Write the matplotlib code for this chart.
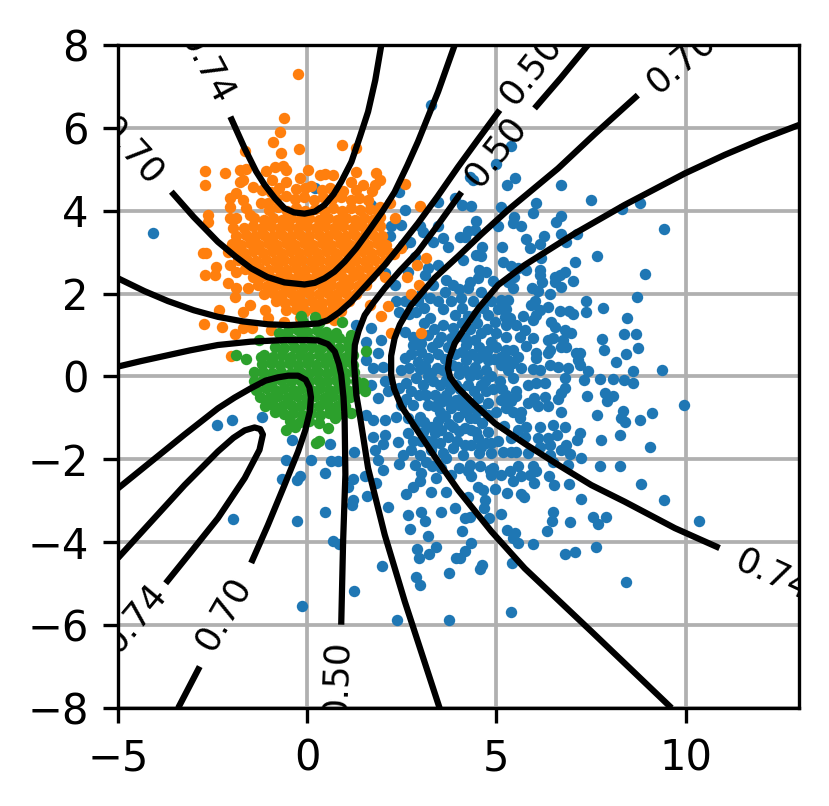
import matplotlib
matplotlib.use("Agg")
import matplotlib.pyplot as plt
import numpy as np

xtick_vals = [-5, 0, 5, 10]
ytick_vals = [-8, -6, -4, -2, 0, 2, 4, 6, 8]

blue_xy = [
    (-4.07,3.47),(3.28,6.55),(0.2,4.54),(2.43,4.46),(1.7,4.14),(2.58,4.02),(3.46,4.22),(3.9,4.3),(3.46,3.62),
    (2.22,3.62),(2.49,3.66),(2.18,3.4),(2.97,3.62),(3.59,3.35),(3.33,3.25),(3.72,3.13),(2.71,3.25),(3.06,3.49),
    (2.53,3.17),(2.84,2.89),(3.46,2.69),(3.19,2.61),(3.68,2.33),(3.11,2.45),(2.67,2.53),(3.33,2.21),(3.85,2.21),
    (2.05,2.49),(2.31,2.21),(2.58,1.81),(2.93,1.81),(3.46,1.81),(3.81,1.81),(2.36,1.81),(2.44,1.56),(2.88,1.56),
    (3.24,1.4),(3.59,1.64),(3.9,1.48),(1.3,1.24),(1.7,1.16),(1.96,0.88),(1.56,0.84),(1.56,0.4),(1.87,0.56),
    (2.0,0.24),(1.74,0.2),(2.58,1.08),(2.8,0.76),(3.19,1.0),(3.46,0.84),(3.81,0.92),(2.58,0.44),(2.93,0.36),
    (2.49,0.16),(3.28,0.08),
    (5.4,5.57),(5.0,5.13),(4.3,4.82),(4.38,4.74),(5.5,4.8),(5.27,4.62),(6.7,4.62),(7.51,4.25),(6.06,4.18),
    (8.79,4.18),(8.32,4.04),(4.08,4.14),(4.32,4.12),(5.13,4.1),(5.97,3.95),(6.72,3.88),(5.47,3.86),(6.59,3.74),
    (5.44,3.7),(5.66,3.64),(5.05,3.62),(4.45,3.76),(9.43,3.56),(7.13,3.45),(6.72,3.43),(6.26,3.39),(5.78,3.32),
    (6.85,3.24),(6.15,3.2),(5.88,3.11),(5.15,3.12),(4.62,3.13),(7.66,2.92),(4.47,2.93),(4.6,2.92),(4.16,3.37),
    (4.03,3.37),(4.25,3.5),(4.43,3.53),(4.12,2.81),(7.07,2.77),(5.18,2.77),(6.17,2.85),(5.4,2.67),(5.57,2.61),
    (5.79,2.57),(6.15,2.57),(4.53,2.57),(4.74,2.51),(6.81,2.53),(8.94,2.48),(6.54,2.41),(6.67,2.45),(6.15,2.45),
    (4.52,2.38),(4.3,2.27),(6.21,2.29),(6.54,2.27),(7.02,2.3),(4.91,2.3),(5.48,2.41),(5.3,2.27),(6.72,2.17),
    (5.93,2.13),(6.1,2.06),(5.44,2.13),(4.6,2.05),(4.25,2.13),(6.41,1.98),(8.73,1.93),(4.07,1.89),(4.38,1.81),
    (4.87,1.81),(5.13,1.85),(5.3,1.85),(6.01,1.81),(5.92,1.72),(7.36,1.82),(6.37,1.68),(6.15,1.6),(5.26,1.64),
    (5.04,1.64),(7.83,1.66),(6.67,1.59),(6.92,1.59),(7.03,1.52),(7.36,1.56),(5.71,1.47),(6.06,1.48),(5.97,1.36),
    (8.46,1.42),(4.78,1.48),(4.43,1.48),(5.22,1.44),(5.35,1.4),(6.45,1.32),(6.54,1.2),(5.53,1.24),(5.26,1.24),
    (4.96,1.32),(5.75,1.12),(6.81,1.12),(6.98,1.04),(8.37,1.03),(8.7,1.03),(4.6,1.04),(5.62,0.96),(5.97,0.92),
    (5.26,0.96),(6.37,0.88),(6.5,0.92),(7.79,0.9),(6.76,0.88),(4.87,0.84),(4.16,0.92),(4.43,0.88),(5.79,0.74),
    (6.72,0.72),(6.85,0.72),(6.41,0.64),(7.84,0.65),(8.75,0.68),(5.26,0.64),(5.44,0.64),(7.11,0.56),(7.2,0.56),
    (8.44,0.55),(6.06,0.56),(6.37,0.56),(5.13,0.48),(5.57,0.48),(4.51,0.44),(4.78,0.4),(4.21,0.4),(6.06,0.44),
    (5.31,0.4),(7.16,0.4),(8.15,0.36),(5.44,0.32),(5.13,0.28),(6.41,0.28),(6.63,0.24),(6.9,0.2),(7.2,0.28),
    (4.43,0.24),(3.99,0.24),(9.39,0.16),(7.42,0.13),(8.6,0.13),(5.97,0.18),(6.15,0.16),(5.66,0.2),(5.31,0.16),
    (4.74,0.16),(4.16,0.16),
    (9.95,-0.68),(9.12,-0.87),(8.81,-1.05),(8.35,-0.84),(8.3,-1.01),(8.39,-1.1),(7.66,-0.94),(8.26,-1.41),
    (7.76,-1.53),(9.05,-1.69),(7.73,-2.15),(8.28,-2.17),(8.82,-2.6),(9.43,-2.99),(10.35,-3.48),(7.25,-2.95),
    (6.92,-2.6),(6.53,-2.61),(6.38,-2.4),(7.91,-3.38),(7.56,-3.38),(7.7,-3.56),(6.5,-3.26),(6.48,-3.48),
    (6.95,-3.5),(6.34,-3.74),(5.97,-4.04),(5.56,-4.01),(7.64,-4.11),(7.07,-4.23),(6.82,-4.28),(8.42,-4.97),
    (5.41,-4.5),(4.62,-4.55),(4.56,-4.64),(5.4,-5.68),(4.32,-4.02),(4.18,-4.2),(4.03,-4.38),(5.44,-3.9),
    (5.49,-3.78),(5.29,-3.7),(4.09,-3.72),(5.13,-3.32),(4.8,-3.42),(4.67,-3.18),(4.16,-3.42),(4.3,-3.38),
    (4.69,-2.98),(4.25,-2.92),(4.65,-2.74),(4.52,-2.66),(4.97,-2.72),(5.29,-2.82),(5.64,-2.84),(5.73,-2.92),
    (4.34,-2.41),(4.25,-2.29),(4.56,-2.17),(4.87,-2.37),(4.82,-2.25),(5.13,-2.37),(5.35,-2.29),(5.44,-2.52),
    (5.66,-2.41),(5.88,-2.37),(6.06,-2.29),(5.99,-2.56),(5.97,-2.17),(5.57,-2.15),(4.91,-2.2),(4.3,-2.13),
    (6.9,-2.13),(6.5,-2.07),(7.23,-1.96),(6.94,-1.87),(5.18,-1.83),(5.4,-1.83),(5.53,-1.81),(5.84,-1.85),
    (4.53,-1.85),(4.87,-1.85),(4.12,-1.89),(6.41,-1.89),(6.72,-1.77),(6.85,-1.65),(6.15,-1.69),(6.41,-1.65),
    (7.14,-1.53),(7.2,-1.37),(6.61,-1.42),(4.74,-1.61),(4.34,-1.65),(4.16,-1.65),(4.52,-1.49),(5.4,-1.49),
    (5.75,-1.45),(6.1,-1.49),(6.37,-1.49),(4.78,-1.33),(4.47,-1.33),(4.16,-1.25),(5.57,-1.29),(5.79,-1.21),
    (6.15,-1.23),(6.5,-1.17),(6.82,-1.21),(5.62,-1.01),(5.44,-0.86),(5.66,-0.86),(6.72,-0.85),(4.78,-0.93),
    (4.43,-1.01),(4.16,-0.85),(6.1,-0.7),(6.37,-0.72),(5.84,-0.64),(6.0,-0.52),(6.29,-0.5),(6.63,-0.54),
    (7.4,-0.48),(7.86,-0.4),(8.08,-0.48),(7.93,-0.59),(6.81,-0.28),(6.72,-0.4),(5.13,-0.56),(5.26,-0.44),
    (5.53,-0.36),(5.53,-0.48),(4.78,-0.64),(4.74,-0.36),(4.52,-0.52),(4.25,-0.68),(4.08,-0.52),(4.25,-0.2),
    (4.6,-0.2),(5.09,-0.12),(5.84,-0.2),(6.06,-0.16),(6.28,-0.16),(6.81,-0.04),(7.31,-0.08),(7.75,-0.06),
    (8.08,-0.06),(8.37,-0.08),(8.6,-0.15),(5.44,-0.04),
    (-2.38,-1.17),(-2.0,-1.06),(-1.19,-0.97),(-0.4,-1.53),(0.61,-1.63),(-0.57,-2.01),(0.11,-2.01),(0.64,-2.04),
    (0.81,-2.05),(0.48,-2.34),(-0.67,-2.47),(-0.2,-2.41),(-0.27,-2.5),(1.21,-2.47),(1.52,-2.41),(1.08,-2.66),
    (1.83,-2.56),(1.59,-2.88),(1.21,-2.98),(1.19,-3.1),(-1.96,-3.44),(-0.26,-3.48),(0.48,-3.27),(2.14,-3.14),
    (2.67,-3.34),(3.0,-3.27),(3.11,-3.48),(3.55,-3.28),(2.71,-3.68),(3.19,-3.86),(0.67,-3.96),(0.83,-4.05),
    (2.9,-4.16),(2.95,-4.37),(3.21,-4.28),(3.4,-4.12),(3.94,-4.38),(1.99,-4.58),(3.74,-4.75),(2.87,-4.85),
    (2.98,-5.03),(1.24,-5.17),(-0.13,-5.55),(2.38,-5.88),(3.76,-5.87),(2.62,-2.84),(2.8,-2.66),(2.97,-2.52),
    (3.28,-2.79),(3.68,-2.79),(3.9,-3.18),(3.41,-2.46),(3.81,-2.37),(2.0,-2.26),(2.44,-2.12),(2.84,-2.14),
    (3.02,-2.34),(3.15,-2.07),(3.68,-1.96),(1.87,-2.01),(1.24,-1.81),(1.78,-1.77),(2.0,-1.63),(2.4,-1.57),
    (2.53,-1.89),(2.75,-1.77),(2.97,-1.89),(3.28,-1.77),(3.5,-1.61),(3.85,-1.73),(1.74,-1.45),(2.05,-1.4),
    (2.67,-1.37),(3.06,-1.33),(3.37,-1.37),(3.72,-1.45),(1.56,-0.93),(1.74,-1.05),(2.05,-1.05),(2.36,-0.97),
    (2.67,-1.01),(2.97,-0.97),(3.28,-1.21),(3.85,-1.21),(1.87,-0.52),(2.14,-0.36),(2.49,-0.69),(2.8,-0.69),
    (3.19,-0.69),(3.5,-0.85),(3.81,-0.77),(2.05,-0.12),(1.7,-0.2),(2.44,-0.28),(2.75,-0.36),(3.06,-0.2),
    (3.37,-0.44),(3.68,-0.44),(2.88,-0.04),(3.19,0.0),(3.68,-0.08),(3.94,-0.2),(3.94,-0.56),
    (2.8,0.95),(3.02,0.82),(3.3,0.7),(3.55,0.95),(3.72,0.72),(3.98,0.98),(4.2,0.75),(4.55,0.72),(4.75,0.62),(5.0,0.7),
    (2.75,0.55),(3.0,0.58),(3.2,0.45),(3.45,0.55),(3.65,0.42),(3.9,0.55),(4.1,0.58),(4.35,0.55),(4.6,0.5),(4.95,0.42),
    (2.7,0.2),(2.98,0.18),(3.12,0.25),(3.42,0.2),(3.58,0.15),(3.82,0.28),(4.02,0.05),(4.3,0.0),(4.5,0.05),(4.85,0.0),
    (2.62,-0.15),(3.32,-0.1),(3.5,-0.2),(3.78,-0.3),(4.05,-0.3),(4.42,-0.35),(4.9,-0.3),(2.95,-0.45),(3.15,-0.45),
    (3.55,-0.62),(3.72,-0.6),(4.0,-0.68),(4.42,-0.75),(2.62,-0.55),(3.38,-0.72),(3.65,-0.95),(3.98,-0.98),(4.3,-1.0),
    (4.6,-0.82),(3.1,-1.1),(3.45,-1.08),(3.75,-1.15),(4.0,-1.32),(4.32,-1.28),(4.62,-1.12),(3.55,-1.3),(2.85,-1.15),
    (3.1,1.3),(3.35,1.15),(3.6,1.25),(3.85,1.18),(4.1,1.3),(4.3,1.15),(4.5,1.3),(4.75,1.15),(5.0,1.05),
    (3.0,2.0),(3.25,1.9),(3.65,2.05),(4.0,2.1),(2.7,1.5),(3.1,1.65),(4.1,1.65),(4.25,1.45),(4.65,1.65),
    (4.85,-1.6),(4.6,-1.7),(5.05,-1.55),(5.2,-1.2),(5.0,-0.85),(5.25,-0.75),(5.4,-0.6),(5.15,-0.3),(4.7,-0.1),
    (3.35,-1.6),(3.6,-1.85),(3.95,-1.55),(3.2,-1.55),(3.0,-1.55),(2.8,-1.55),(3.3,-2.15),(3.55,-2.2),(4.0,-2.2),
]

orange_xy = [
    (-0.24,7.29),(-0.62,6.25),(-0.71,5.91),(-0.9,5.67),(-0.7,5.39),(-0.22,5.49),(0.92,5.59),(1.3,5.51),(-1.63,5.43),
    (-2.71,4.96),(-2.18,4.9),(-2.71,4.62),(-1.78,4.98),(-1.61,5.0),(-1.08,4.96),(-0.84,5.06),(-0.64,5.09),(-0.55,4.98),
    (0.02,4.98),(0.33,4.86),(0.46,4.88),(0.68,4.86),(1.3,4.93),(1.83,4.92),(1.92,4.74),(1.78,4.62),(1.48,4.62),
    (1.71,4.48),(2.59,4.64),(-1.7,4.74),(-1.78,4.69),(-1.43,4.58),(-1.19,4.5),(-0.93,4.74),(-0.55,4.7),(-0.2,4.78),
    (1.17,4.7),(1.3,4.5),(-2.05,4.3),(-1.87,4.42),(-1.7,4.26),(-2.05,4.1),(-1.61,4.06),(-2.62,3.9),(-2.62,3.74),
    (-2.05,3.82),(-1.87,3.82),(-1.96,3.58),(-1.52,3.9),(-1.21,4.18),(-1.04,4.18),(2.31,3.83),(2.97,4.11),(2.18,4.18),(1.92,4.1),
    (-0.75,4.55),(-0.3,4.52),(0.1,4.6),(0.6,4.55),(0.95,4.48),(-0.95,4.45),(-0.05,4.55),(0.38,4.5),
    (-0.82,4.3),(-0.55,4.35),(-0.32,4.28),(-0.08,4.32),(0.18,4.25),(0.42,4.33),(0.66,4.28),(0.9,4.32),(1.15,4.26),(1.38,4.3),(1.6,4.25),
    (-1.0,4.02),(-0.78,4.08),(-0.52,4.0),(-0.3,4.06),(-0.05,4.0),(0.2,4.05),(0.44,4.0),(0.68,4.06),(0.92,4.0),(1.16,4.06),(1.4,4.02),(1.65,4.05),(1.88,3.98),
    (-1.4,3.82),(-1.15,3.78),(-0.9,3.82),(-0.66,3.78),(-0.42,3.82),(-0.18,3.78),(0.06,3.82),(0.3,3.78),(0.54,3.82),(0.78,3.78),(1.02,3.82),(1.26,3.78),(1.5,3.82),(1.72,3.78),(1.92,3.84),
    (-1.68,3.58),(-1.44,3.62),(-1.2,3.58),(-0.96,3.62),(-0.72,3.58),(-0.48,3.62),(-0.24,3.58),(0.0,3.62),(0.24,3.58),(0.48,3.62),(0.72,3.58),(0.96,3.62),(1.2,3.58),(1.44,3.62),(1.68,3.58),(1.92,3.62),
    (-1.88,3.38),(-1.62,3.42),(-1.38,3.38),(-1.14,3.42),(-0.9,3.38),(-0.66,3.42),(-0.42,3.38),(-0.18,3.42),(0.06,3.38),(0.3,3.42),(0.54,3.38),(0.78,3.42),(1.02,3.38),(1.26,3.42),(1.5,3.38),(1.74,3.42),(1.98,3.38),
    (-2.0,3.2),(-1.76,3.18),(-1.52,3.22),(-1.28,3.18),(-1.04,3.22),(-0.8,3.18),(-0.56,3.22),(-0.32,3.18),(-0.08,3.22),(0.16,3.18),(0.4,3.22),(0.64,3.18),(0.88,3.22),(1.12,3.18),(1.36,3.22),(1.6,3.18),(1.84,3.22),(2.08,3.18),
    (-2.09,3.0),(-1.88,2.98),(-1.66,2.98),(-1.42,3.02),(-1.18,2.98),(-0.94,3.02),(-0.7,2.98),(-0.46,3.02),(-0.22,2.98),(0.02,3.02),(0.26,2.98),(0.5,3.02),(0.74,2.98),(0.98,3.02),(1.22,2.98),(1.46,3.02),(1.7,2.98),(1.94,3.02),(2.18,2.98),
    (-1.82,2.8),(-1.58,2.82),(-1.34,2.78),(-1.1,2.82),(-0.86,2.78),(-0.62,2.82),(-0.38,2.78),(-0.14,2.82),(0.1,2.78),(0.34,2.82),(0.58,2.78),(0.82,2.82),(1.06,2.78),(1.3,2.82),(1.54,2.78),(1.78,2.82),(2.02,2.78),
    (-1.65,2.6),(-1.5,2.6),(-1.26,2.62),(-1.02,2.58),(-0.78,2.62),(-0.54,2.58),(-0.3,2.62),(-0.06,2.58),(0.18,2.62),(0.42,2.58),(0.66,2.62),(0.9,2.58),(1.14,2.62),(1.38,2.58),(1.62,2.62),(1.86,2.58),
    (-1.44,2.4),(-1.2,2.42),(-0.96,2.38),(-0.72,2.42),(-0.48,2.38),(-0.24,2.42),(0.0,2.38),(0.24,2.42),(0.48,2.38),(0.72,2.42),(0.96,2.38),(1.2,2.42),(1.44,2.38),(1.68,2.42),
    (-1.3,2.22),(-1.06,2.18),(-0.82,2.22),(-0.58,2.18),(-0.34,2.22),(-0.1,2.18),(0.14,2.22),(0.38,2.18),(0.62,2.22),(0.86,2.18),(1.1,2.22),(1.34,2.18),(1.56,2.22),
    (-1.15,2.0),(-0.9,2.02),(-0.66,1.98),(-0.42,2.02),(-0.18,1.98),(0.06,2.02),(0.3,1.98),(0.54,2.02),(0.78,1.98),(1.02,2.02),(1.28,1.98),
    (-0.82,1.82),(-0.58,1.78),(-0.34,1.82),(-0.1,1.78),(0.14,1.82),(0.38,1.78),(0.62,1.82),(0.86,1.78),(1.1,1.82),
    (-0.55,1.6),(-0.3,1.62),(-0.06,1.58),(0.18,1.62),(0.42,1.58),(0.66,1.62),(0.9,1.58),(-0.2,1.4),(0.5,1.4),(0.72,1.36),
    (-2.67,2.97),(-2.75,2.97),(-2.4,2.65),(-2.71,2.46),(-2.43,2.45),(-2.05,2.69),(-1.87,2.53),(-2.09,2.25),(-1.87,2.13),
    (-1.92,1.93),(-1.56,2.13),(-2.34,1.6),(-2.73,1.27),(-2.25,1.2),(-1.92,1.02),(-1.7,1.56),(-1.52,1.72),(-1.7,1.16),
    (-1.45,1.16),(-1.12,1.6),(-1.04,1.4),(-0.95,1.12),(-2.02,0.5),(-0.6,1.32),(-0.24,1.2),
    (2.89,2.69),(3.15,2.87),(2.65,2.41),(2.96,2.22),(2.75,2.0),(2.14,1.7),(1.96,1.47),(1.65,1.72),(2.22,1.04),(3.02,1.04),(2.49,3.09),(2.3,2.95),(2.05,2.4),
]

green_xy = [
    (-0.17,1.47),(0.2,1.44),(0.92,1.32),(1.17,1.0),(1.55,0.62),(-1.87,0.53),(-1.61,0.42),(-1.26,0.88),(-1.21,0.48),
    (-0.75,1.06),(-0.5,1.1),(-0.25,1.12),(0.0,1.08),(0.25,1.12),(0.5,1.08),(0.75,1.05),(-0.1,1.32),(0.3,1.28),
    (-0.65,0.9),(-0.4,0.88),(-0.15,0.92),(0.1,0.88),(0.35,0.92),(0.6,0.88),(0.85,0.92),(1.08,0.86),
    (-0.85,0.7),(-0.6,0.68),(-0.36,0.72),(-0.12,0.68),(0.12,0.72),(0.36,0.68),(0.6,0.72),(0.84,0.68),(1.08,0.7),
    (-1.15,0.52),(-0.9,0.48),(-0.66,0.52),(-0.42,0.48),(-0.18,0.52),(0.06,0.48),(0.3,0.52),(0.54,0.48),(0.78,0.52),(1.02,0.48),(1.22,0.52),
    (-1.2,0.3),(-0.96,0.32),(-0.72,0.28),(-0.48,0.32),(-0.24,0.28),(0.0,0.32),(0.24,0.28),(0.48,0.32),(0.72,0.28),(0.96,0.32),(1.2,0.28),
    (-1.4,0.1),(-1.16,0.12),(-0.92,0.08),(-0.68,0.12),(-0.44,0.08),(-0.2,0.12),(0.04,0.08),(0.28,0.12),(0.52,0.08),(0.76,0.12),(1.0,0.08),(1.25,0.12),
    (-1.4,-0.1),(-1.16,-0.08),(-0.92,-0.12),(-0.68,-0.08),(-0.44,-0.12),(-0.2,-0.08),(0.04,-0.12),(0.28,-0.08),(0.52,-0.12),(0.76,-0.08),(1.0,-0.12),(1.28,-0.1),(1.48,-0.16),
    (-1.34,-0.32),(-1.1,-0.28),(-0.86,-0.32),(-0.62,-0.28),(-0.38,-0.32),(-0.14,-0.28),(0.1,-0.32),(0.34,-0.28),(0.58,-0.32),(0.82,-0.28),(1.06,-0.32),(1.3,-0.3),(1.52,-0.36),
    (-1.25,-0.5),(-1.0,-0.52),(-0.76,-0.48),(-0.52,-0.52),(-0.28,-0.48),(-0.04,-0.52),(0.2,-0.48),(0.44,-0.52),(0.68,-0.48),(0.92,-0.52),(1.12,-0.5),
    (-1.12,-0.72),(-0.9,-0.68),(-0.66,-0.72),(-0.42,-0.68),(-0.18,-0.72),(0.06,-0.68),(0.3,-0.72),(0.54,-0.68),(0.78,-0.72),(1.0,-0.7),(1.17,-0.89),
    (-0.86,-0.85),(-0.62,-0.9),(-0.38,-0.88),(-0.14,-0.92),(0.1,-0.88),(0.34,-0.92),(0.58,-0.88),(0.8,-0.92),
    (-0.55,-1.29),(-0.33,-1.21),(-0.45,-1.08),(-0.2,-1.1),(0.05,-1.08),(0.3,-1.12),(0.55,-1.25),(0.73,-1.01),(0.24,-1.61),(0.3,-1.55),
]

# contour polylines, one list per stretch between labels
contour_lines = [
    [(-2.03,6.27),(-1.65,5.5),(-1.35,4.95),(-1.12,4.62),(-0.85,4.3),(-0.6,4.06),(-0.35,3.96),(-0.07,3.93),(0.2,3.98),(0.46,4.14),(0.7,4.4),(0.9,4.7),(1.17,5.18),(1.4,5.8),(1.61,6.39),(1.8,7.15),(1.96,8.0)],
    [(-3.59,4.46),(-3.0,3.85),(-2.36,3.25),(-1.9,2.9),(-1.48,2.61),(-1.05,2.4),(-0.6,2.27),(-0.07,2.22),(0.2,2.26),(0.46,2.37),(0.72,2.53),(0.99,2.77),(1.3,3.1),(1.61,3.49),(2.0,4.0),(2.31,4.45),(2.65,5.1),(2.93,5.67),(3.46,6.87),(3.9,8.0)],
    [(-5,2.37),(-4.3,2.06),(-3.68,1.82),(-3.0,1.6),(-2.36,1.44),(-1.7,1.33),(-1.04,1.26),(-0.5,1.24),(-0.07,1.26),(0.3,1.28),(0.55,1.36),(0.85,1.55),(1.17,1.81),(1.6,2.24),(2.05,2.69),(2.5,3.2),(2.93,3.7),(3.45,4.35),(3.99,5.06),(4.5,5.7),(5.09,6.43)],
    [(-5,0.24),(-4.4,0.37),(-3.85,0.48),(-3.1,0.63),(-2.36,0.76),(-1.5,0.84),(-0.6,0.88),(0.0,0.88),(0.29,0.87),(0.55,0.78),(0.73,0.6),(0.84,0.3),(0.9,0.04),(0.96,-0.5),(0.99,-1.01),(1.01,-2.37),(0.95,-3.98),(0.9,-5.99)],
    [(4.08,4.45),(3.45,3.65),(2.93,3.01),(2.45,2.55),(2.05,2.13),(1.75,1.78),(1.52,1.48),(1.36,1.1),(1.26,0.76),(1.24,0.35),(1.26,0.04),(1.3,-0.45),(1.39,-0.93),(1.61,-2.21),(2.05,-3.82),(2.58,-5.43),(3.5,-8.0)],
    [(6.01,6.47),(6.7,7.2),(7.42,8.0)],
    [(8.74,6.79),(7.6,5.85),(6.63,5.02),(5.31,4.02),(4.6,3.43),(3.99,2.9),(3.37,2.38),(2.75,1.72),(2.45,1.25),(2.31,0.92),(2.22,0.5),(2.22,0.04),(2.3,-0.3),(2.49,-0.72),(2.93,-1.33),(3.46,-2.05),(3.99,-2.74),(4.87,-3.74),(5.75,-4.63),(7.51,-6.15),(9.63,-8.0)],
    [(13,6.07),(12,5.72),(11.04,5.35),(9.98,4.9),(8.39,4.14),(7.07,3.45),(5.75,2.69),(5.05,2.21),(4.52,1.64),(4.15,1.15),(3.9,0.8),(3.76,0.45),(3.72,0.2),(3.78,-0.02),(3.99,-0.28),(4.43,-0.68),(4.96,-1.13),(5.75,-1.62),(6.63,-2.13),(7.51,-2.62),(8.39,-3.02),(9.72,-3.66),(10.9,-4.14)],
    [(-5,-2.7),(-4.12,-2.05),(-3.24,-1.4),(-2.36,-0.77),(-1.92,-0.51),(-1.48,-0.28),(-1.1,-0.1),(-0.77,-0.02),(-0.5,0.02),(-0.24,0.02),(-0.04,-0.08),(0.06,-0.26),(0.1,-0.5),(0.07,-0.85),(-0.05,-1.3),(-0.24,-1.81),(-0.6,-2.62),(-1.04,-3.59),(-1.48,-4.5)],
    [(-2.84,-7.0),(-3.41,-8.0)],
    [(-5,-4.38),(-4.12,-3.5),(-3.24,-2.62),(-2.36,-1.81),(-1.95,-1.48),(-1.65,-1.3),(-1.39,-1.23),(-1.24,-1.27),(-1.17,-1.4),(-1.26,-1.77),(-1.65,-2.45),(-2.36,-3.42),(-3.06,-4.22),(-3.74,-4.99)],
]

label_text = ["0.74", "0.70", "0.50", "0.50", "0.70", "0.74", "0.74", "0.70", "0.50"]
label_x = [-2.67, -4.65, 5.92, 4.97, 9.89, 12.3, -4.56, -2.22, 0.77]
label_y = [7.48, 5.43, 7.4, 5.42, 7.6, -4.8, -5.83, -5.71, -7.3]
label_rot = [-62, -48, 52, 52, 40, -25, 50, 60, 88]


def main():
    fig = plt.figure(figsize=(829 / 300, 806 / 300), dpi=300)
    ax = fig.add_axes([118 / 829, 1 - 708 / 806, 681 / 829, 663 / 806])

    for pts, col in ((blue_xy, "C0"), (orange_xy, "C1"), (green_xy, "C2")):
        arr = np.array(pts)
        ax.scatter(arr[:, 0], arr[:, 1], s=7.5, color=col, linewidths=0)

    for line in contour_lines:
        arr = np.array(line)
        ax.plot(arr[:, 0], arr[:, 1], color="k", lw=1.5,
                solid_capstyle="butt", solid_joinstyle="round")

    for txt, x, y, rot in zip(label_text, label_x, label_y, label_rot):
        ax.text(x, y, txt, rotation=rot, rotation_mode="anchor", ha="center",
                va="center", fontsize=8.5, clip_on=True)

    ax.set_xlim(-5, 13)
    ax.set_ylim(-8, 8)
    ax.set_xticks(xtick_vals)
    ax.set_yticks(ytick_vals)
    ax.tick_params(labelsize=10)
    ax.grid(True, lw=0.9)
    ax.set_axisbelow(True)
    fig.savefig("out.png", dpi=300)


if __name__ == "__main__":
    main()
